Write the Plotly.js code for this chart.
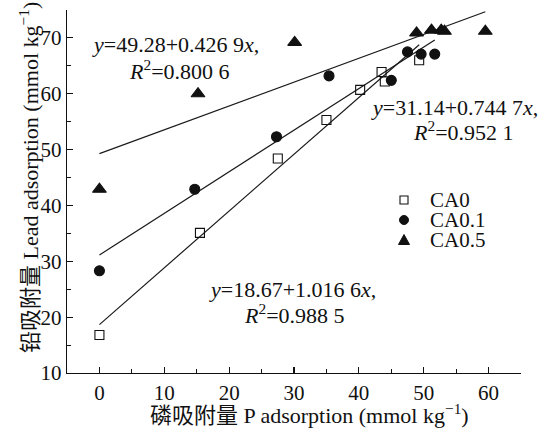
<!DOCTYPE html>
<html>
<head>
<meta charset="utf-8">
<script src="https://cdn.plot.ly/plotly-3.0.1.min.js"></script>
<style>html,body{margin:0;padding:0;background:#fff;}#chart{width:539px;height:430px;}</style>
</head>
<body>
<div id="chart"></div>
<script>
// ---- data ----
const seriesNames = ["CA0", "CA0.1", "CA0.5"];
const xCA0   = [0, 15.5, 27.5, 35.0, 40.2, 43.5, 44.0, 49.3];
const yCA0   = [16.8, 35.1, 48.4, 55.3, 60.7, 63.9, 62.2, 66.0];
const xCA01  = [0, 14.7, 27.3, 35.4, 45.0, 47.5, 49.6, 51.7];
const yCA01  = [28.3, 42.9, 52.3, 63.2, 62.4, 67.5, 67.1, 67.1];
const xCA05  = [0, 15.2, 30.1, 48.9, 51.2, 52.7, 53.2, 59.5];
const yCA05  = [42.9, 60.0, 69.2, 70.9, 71.4, 71.4, 71.2, 71.2];
// regression equations printed on the chart
const intercepts = [18.67, 31.14, 49.28];
const slopes     = [1.0166, 0.7447, 0.4269];
const eqTexts = [
  ["<i>y</i>=18.67+1.016 6<i>x</i>,", "<i>R</i><sup>2</sup>=0.988 5"],
  ["<i>y</i>=31.14+0.744 7<i>x</i>,", "<i>R</i><sup>2</sup>=0.952 1"],
  ["<i>y</i>=49.28+0.426 9<i>x</i>,", "<i>R</i><sup>2</sup>=0.800 6"]
];
const xTitle = "磷吸附量 P adsorption (mmol kg<sup>−1</sup>)";
const yTitle = "铅吸附量 Lead adsorption (mmol kg<sup>−1</sup>)";
const xRange = [-5, 65];
const yRange = [10, 75];

// ---- layout geometry ----
const W = 539, H = 430;
const M = {l: 67, r: 18, t: 10, b: 57};
const PW = W - M.l - M.r, PH = H - M.t - M.b;
const px = v => (v - M.l) / PW;
const py = v => (H - M.b - v) / PH;

const FONT = "Liberation Serif, Times New Roman, Noto Sans CJK SC, serif";
const TXT = 22;
const xs = [xCA0, xCA01, xCA05], ys = [yCA0, yCA01, yCA05];
const symbols = ["square-open", "circle", "triangle-up"];
const sizes = [9, 10, 12];

const traces = [];
for (let i = 0; i < 3; i++) {
  const x0 = Math.min(...xs[i]), x1 = Math.max(...xs[i]);
  traces.push({
    x: [x0, x1], y: [intercepts[i] + slopes[i] * x0, intercepts[i] + slopes[i] * x1],
    mode: "lines", line: {color: "#1a1a1a", width: 1.2}, showlegend: false, hoverinfo: "skip"
  });
}
for (let i = 0; i < 3; i++) {
  traces.push({
    x: xs[i], y: ys[i], name: seriesNames[i], mode: "markers", showlegend: false,
    marker: {symbol: symbols[i], size: sizes[i], color: "#111", line: {color: "#111", width: 1.1}}
  });
}

const ann = [];
const eqPos = [ // [centerX line1, y line1, centerX line2, y line2]
  [292, 289, 294, 314],
  [454, 107, 463, 131],
  [175, 45, 179, 70]
];
for (let i = 0; i < 3; i++) {
  ann.push({xref: "paper", yref: "paper", x: px(eqPos[i][0]), y: py(eqPos[i][1]), text: eqTexts[i][0],
            showarrow: false, xanchor: "center", yanchor: "middle", font: {family: FONT, size: TXT, color: "#111"}});
  ann.push({xref: "paper", yref: "paper", x: px(eqPos[i][2]), y: py(eqPos[i][3]), text: eqTexts[i][1],
            showarrow: false, xanchor: "center", yanchor: "middle", font: {family: FONT, size: TXT, color: "#111"}});
}
// legend texts
const legY = [200, 220, 240];
for (let i = 0; i < 3; i++) {
  ann.push({xref: "paper", yref: "paper", x: px(428), y: py(legY[i]), text: seriesNames[i],
            showarrow: false, xanchor: "left", yanchor: "middle", font: {family: FONT, size: 21, color: "#111"}});
}
// axis titles
ann.push({xref: "paper", yref: "paper", x: px(309), y: py(414), text: xTitle, showarrow: false,
          xanchor: "center", yanchor: "middle", font: {family: FONT, size: TXT, color: "#111"}});
ann.push({xref: "paper", yref: "paper", x: px(29), y: py(178), text: yTitle, showarrow: false, textangle: -90,
          xanchor: "center", yanchor: "middle", font: {family: FONT, size: TXT, color: "#111"}});

// legend symbols as shapes
const lx = px(404);
const shapes = [
  {type: "rect", xref: "paper", yref: "paper", xsizemode: "pixel", ysizemode: "pixel",
   xanchor: lx, yanchor: py(legY[0]), x0: -4, x1: 4, y0: -4, y1: 4,
   line: {color: "#111", width: 1.1}, fillcolor: "rgba(0,0,0,0)"},
  {type: "circle", xref: "paper", yref: "paper", xsizemode: "pixel", ysizemode: "pixel",
   xanchor: lx, yanchor: py(legY[1]), x0: -4.5, x1: 4.5, y0: -4.5, y1: 4.5,
   line: {color: "#111", width: 1}, fillcolor: "#111"},
  {type: "path", xref: "paper", yref: "paper", xsizemode: "pixel", ysizemode: "pixel",
   xanchor: lx, yanchor: py(legY[2]), path: "M-5.5,-4.5 L5.5,-4.5 L0,5.5 Z",
   line: {color: "#111", width: 1}, fillcolor: "#111"}
];

const axisCommon = {
  showline: true, linecolor: "#111", linewidth: 1.3, mirror: false, zeroline: false, showgrid: false,
  ticks: "inside", ticklen: 6, tickwidth: 1.1, tickcolor: "#111",
  tickfont: {family: FONT, size: 21, color: "#111"}
};
const layout = {
  width: W, height: H, margin: M, paper_bgcolor: "#fff", plot_bgcolor: "#fff",
  showlegend: false,
  xaxis: Object.assign({}, axisCommon, {range: xRange, tick0: 0, dtick: 10,
    minor: {dtick: 5, ticks: "inside", ticklen: 4, tickwidth: 1.1, tickcolor: "#111", showgrid: false}}),
  yaxis: Object.assign({}, axisCommon, {range: yRange, tick0: 10, dtick: 10,
    minor: {dtick: 5, ticks: "inside", ticklen: 4, tickwidth: 1.1, tickcolor: "#111", showgrid: false}}),
  annotations: ann, shapes: shapes
};
Plotly.newPlot("chart", traces, layout, {staticPlot: true, displayModeBar: false});
</script>
</body>
</html>
